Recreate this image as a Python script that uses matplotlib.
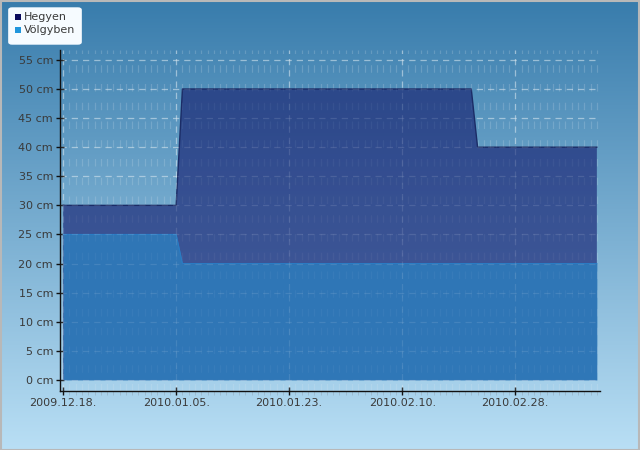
import matplotlib
matplotlib.use("Agg")
import matplotlib.pyplot as plt
import matplotlib.dates as mdates
import numpy as np
import pandas as pd
from matplotlib.patches import FancyBboxPatch, Rectangle

# ── Data ──────────────────────────────────────────────────────────────────────
dates = pd.to_datetime(["2009-12-18", "2010-01-05", "2010-01-06",
                        "2010-02-21", "2010-02-22", "2010-03-13"])
hegyen = [30, 30, 50, 50, 40, 40]
volgyben = [25, 25, 20, 20, 20, 20]
tick_dates = pd.to_datetime(["2009-12-18", "2010-01-05", "2010-01-23",
                             "2010-02-10", "2010-02-28"])
y_ticks = list(range(0, 60, 5))

# ── Colors ────────────────────────────────────────────────────────────────────
BG_TOP = np.array([0x38, 0x7c, 0xac]) / 255
BG_BOT = np.array([0xb9, 0xdf, 0xf5]) / 255
HEGY_TOP = np.array([0x2a, 0x44, 0x88]) / 255
HEGY_BOT = np.array([0x43, 0x58, 0x9a]) / 255
HEGY_EDGE = "#1b2c66"
VOLGY = "#2f78b8"
GRID = "#dce9f2"
TEXT = "#3a3a3a"

fig = plt.figure(figsize=(6.4, 4.5), dpi=100)

# background gradient
bg = fig.add_axes([0, 0, 1, 1], zorder=0)
t = np.linspace(0, 1, 256)[:, None]
grad = BG_TOP[None, None, :] * (1 - t[:, :, None]) + BG_BOT[None, None, :] * t[:, :, None]
bg.imshow(np.repeat(grad, 2, axis=1), aspect="auto", extent=[0, 1, 0, 1])
bg.add_patch(Rectangle((0.001, 0.001), 0.997, 0.996, fill=False,
                       edgecolor="#b8b8b8", lw=1.5, transform=bg.transAxes))
bg.axis("off")

ax = fig.add_axes([60 / 640, (450 - 391) / 450, 540 / 640, 341 / 450], zorder=1)
ax.set_facecolor("none")

x0, x1 = dates[0] - pd.Timedelta(hours=12), dates[-1] + pd.Timedelta(hours=12)

# Hegyen area with a vertical gradient clipped to the data polygon
poly = ax.fill_between(dates, 0, hegyen, color="none", lw=0, zorder=2)
hg = HEGY_TOP[None, None, :] * (1 - t[:, :, None]) + HEGY_BOT[None, None, :] * t[:, :, None]
img = ax.imshow(np.repeat(hg, 2, axis=1), aspect="auto", alpha=0.95, zorder=2,
                extent=[mdates.date2num(dates[0]), mdates.date2num(dates[-1]), 0, max(hegyen)])
img.set_clip_path(poly.get_paths()[0], transform=ax.transData)
ax.set_xlim(x0, x1)
ax.set_ylim(-1.9, 56.7)
ax.plot(dates, hegyen, color=HEGY_EDGE, lw=1.0, zorder=3)
ax.fill_between(dates, 0, volgyben, color=VOLGY, alpha=0.97, lw=0, zorder=4)
ax.plot(dates, volgyben, color="#2a7cc4", lw=0.8, zorder=4)

ax.set_xticks(tick_dates)
ax.xaxis.set_major_formatter(mdates.DateFormatter("%Y.%m.%d."))
ax.xaxis.set_minor_locator(mdates.DayLocator(interval=1))
ax.set_yticks(y_ticks)
ax.set_yticklabels([f"{v} cm" for v in y_ticks])

for s in ["top", "right"]:
    ax.spines[s].set_visible(False)
for s in ["left", "bottom"]:
    ax.spines[s].set_color("#111111")
    ax.spines[s].set_linewidth(1.0)
    ax.spines[s].set_zorder(6)

ax.tick_params(axis="both", which="major", direction="inout", length=6,
               width=1, color="#111111", labelsize=8, labelcolor=TEXT, pad=2)
ax.tick_params(axis="x", which="minor", direction="out", length=3,
               width=0.6, color="#9ab8cc")

# grid behind the areas ...
ax.grid(True, which="major", color=GRID, lw=0.9, ls=(0, (5, 4)), alpha=0.5)
ax.grid(True, which="minor", axis="x", color=GRID, lw=0.9, ls=(0, (6, 9)), alpha=0.16)
for gl in ax.get_xgridlines() + ax.get_ygridlines():
    gl.set_zorder(1.5)
# ... and a faint copy shining through them
for d in tick_dates:
    ax.axvline(d, color=GRID, lw=0.9, ls=(0, (5, 4)), alpha=0.12, zorder=5)
for v in y_ticks:
    ax.axhline(v, color=GRID, lw=0.9, ls=(0, (5, 4)), alpha=0.12, zorder=5)
for d in pd.date_range(dates[0], dates[-1], freq="D"):
    ax.axvline(d, color=GRID, lw=0.9, ls=(0, (6, 9)), alpha=0.05, zorder=5)

for lbl in ax.get_xticklabels():
    lbl.set_horizontalalignment("center")

# ── Legend ────────────────────────────────────────────────────────────────────
leg = FancyBboxPatch((12 / 640, 1 - 42 / 450), 66 / 640, 32 / 450,
                     boxstyle="round,pad=0.006", transform=bg.transAxes,
                     facecolor="#f6fbff", edgecolor="none", zorder=3)
bg.add_patch(leg)
for i, (clr, name) in enumerate([("#0b0b5c", "Hegyen"), ("#2196dc", "Völgyben")]):
    yy = 1 - (17 + i * 13) / 450
    bg.add_patch(Rectangle((15 / 640, yy - 3 / 450), 6 / 640, 6 / 450,
                           facecolor=clr, edgecolor="none",
                           transform=bg.transAxes, zorder=4))
    bg.text(24 / 640, yy, name, fontsize=8, color=TEXT, va="center",
            transform=bg.transAxes, zorder=4)

plt.savefig("out.png", dpi=100)
